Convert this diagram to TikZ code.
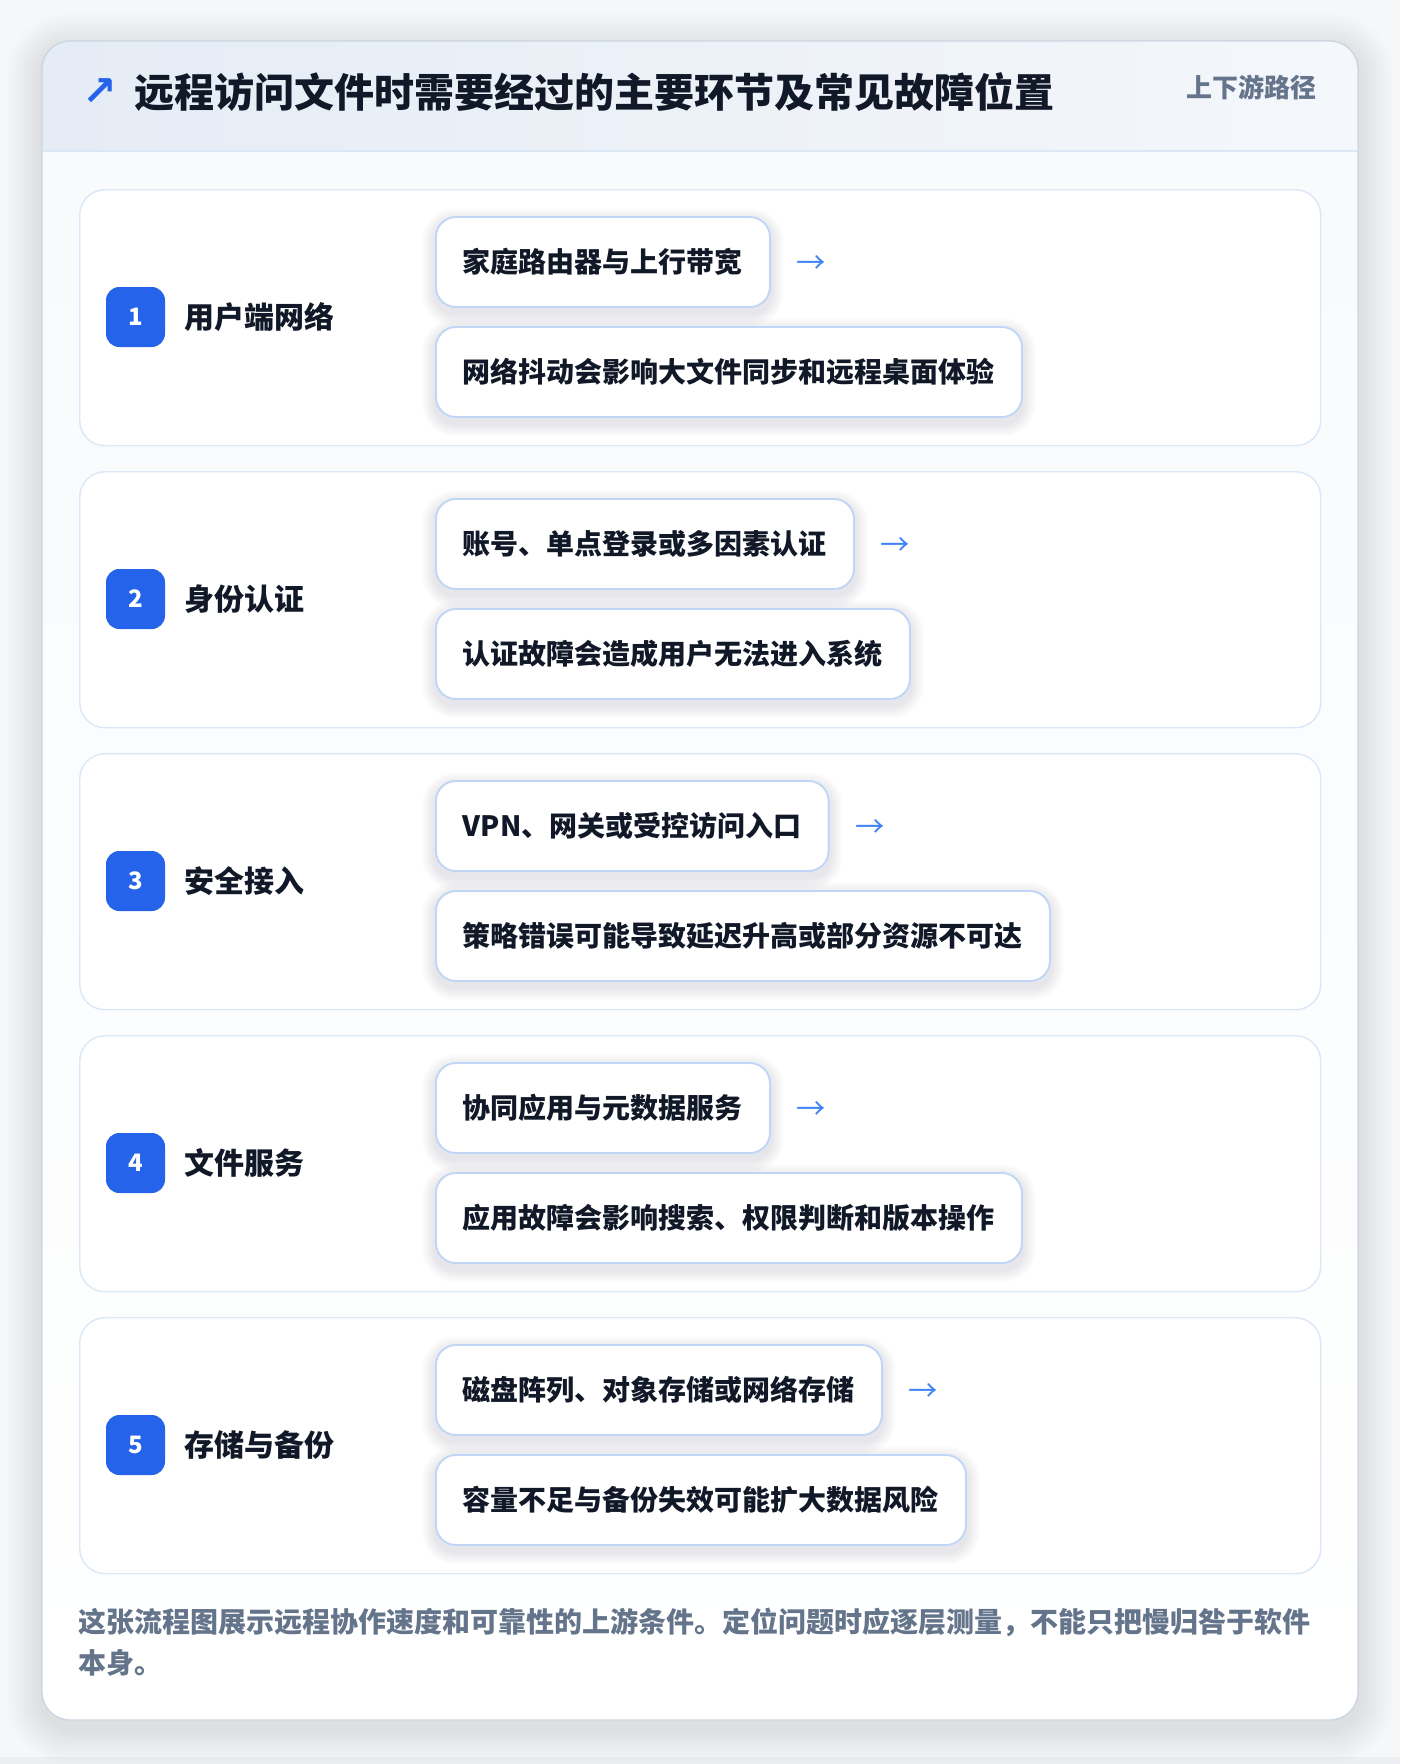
\documentclass[tikz,border=0pt]{standalone}
\usepackage{fontspec}
\setmainfont{Noto Sans CJK SC}
\newfontfamily\symfont{DejaVu Sans}
\usetikzlibrary{positioning,calc}
\definecolor{pagebg}{HTML}{F6F7F9}
\definecolor{cardborder}{HTML}{CBD5E1}
\definecolor{hdrL}{HTML}{E5ECF5}
\definecolor{hdrR}{HTML}{F4F7FB}
\definecolor{hdrline}{HTML}{DCE7F5}
\definecolor{bodytop}{HTML}{F8FAFC}
\definecolor{rowborder}{HTML}{DCE8F8}
\definecolor{pillborder}{HTML}{BFD6F6}
\definecolor{ink}{HTML}{111827}
\definecolor{muted}{HTML}{64748B}
\definecolor{accent}{HTML}{2563EB}
\definecolor{arrowblue}{HTML}{3B82F6}
\definecolor{strip}{HTML}{ECEEF2}
\definecolor{shadowcol}{HTML}{1E293B}
\pgfdeclarelayer{back}
\pgfdeclarelayer{shade}
\pgfsetlayers{back,shade,main}
\newcommand\softshadow[4]{% node, base radius (pt), steps, opacity
  \foreach \k in {1,...,#3}{%
    \pgfmathsetmacro\rr{#2+1.6*\k}%
    \fill[shadowcol, opacity=#4, rounded corners=\rr pt]
      ([xshift=-\k*1.6pt, yshift=-4pt-\k*1.6pt]#1.south west) rectangle
      ([xshift=\k*1.6pt, yshift=-4pt+\k*1.6pt]#1.north east);}}
\begin{document}
\begin{tikzpicture}[x=0.75pt,y=0.75pt,
  rowbox/.style={draw=rowborder, line width=1.1pt, fill=white, rounded corners=19pt, inner sep=0pt, anchor=north west, minimum width=930.75pt, minimum height=192pt},
  pill/.style={draw=pillborder, line width=1.4pt, fill=white, rounded corners=15pt, inner xsep=20.25pt, inner ysep=0pt, minimum height=67.5pt, anchor=west, text=ink, font=\bfseries\fontsize{21}{25}\selectfont},
  badge/.style={fill=accent, rounded corners=10pt, minimum width=44.25pt, minimum height=45pt, inner sep=0pt, text=white, font=\bfseries\fontsize{18}{20}\selectfont},
  steplabel/.style={anchor=west, inner sep=0pt, text=ink, font=\bfseries\fontsize{22.5}{26}\selectfont},
  flowarrow/.style={anchor=west, inner sep=0pt, text=arrowblue, font=\fontsize{22}{24}\selectfont},
  foottext/.style={anchor=west, inner sep=0pt, text=muted, font=\bfseries\fontsize{21}{25}\selectfont},
  cardshape/.style={rounded corners=21pt},
]
\useasboundingbox (0,0) rectangle (1400,-1764);
\begin{pgfonlayer}{back}
\fill[pagebg] (0,0) rectangle (1400,-1764);
\fill[strip] (0,-1757) rectangle (1400,-1764);
% card shadow
\coordinate (cardNW) at (42,-41);
\coordinate (cardSE) at (1358,-1720);
\foreach \k in {1,...,12}{%
  \pgfmathsetmacro\rr{21+2.2*\k}%
  \fill[shadowcol, opacity=0.008, rounded corners=\rr pt]
    ([xshift=-\k*2.2pt, yshift=-6pt+\k*2.2pt]cardNW) rectangle ([xshift=\k*2.2pt, yshift=-6pt-\k*2.2pt]cardSE);}
\fill[white, cardshape] (cardNW) rectangle (cardSE);
\begin{scope}
  \clip[cardshape] (cardNW) rectangle (cardSE);
  \shade[top color=bodytop, bottom color=white] (42,-151) rectangle (1358,-1720);
  \shade[left color=hdrL, right color=hdrR] (42,-41) rectangle (1358,-151);
  \draw[hdrline, line width=1.5pt] (42,-151) -- (1358,-151);
\end{scope}
\draw[cardborder, line width=1pt, cardshape] (cardNW) rectangle (cardSE);
\end{pgfonlayer}
% header
\node[anchor=west, inner sep=0pt, text=accent, font=\symfont\bfseries\fontsize{31}{34}\selectfont] (icon) at (82,-92) {↗};
\node[anchor=west, inner sep=0pt, text=ink, font=\bfseries\fontsize{30}{36}\selectfont] (title) at (134,-92) {远程访问文件时需要经过的主要环节及常见故障位置};
\node[anchor=east, inner sep=0pt, text=muted, font=\bfseries\fontsize{19.5}{22}\selectfont] (tag) at (1317,-87) {上下游路径};
% rows
\foreach \i/\n/\lab/\up/\down in {
  0/1/用户端网络/家庭路由器与上行带宽/网络抖动会影响大文件同步和远程桌面体验,
  1/2/身份认证/账号、单点登录或多因素认证/认证故障会造成用户无法进入系统,
  2/3/安全接入/VPN、网关或受控访问入口/策略错误可能导致延迟升高或部分资源不可达,
  3/4/文件服务/协同应用与元数据服务/应用故障会影响搜索、权限判断和版本操作,
  4/5/存储与备份/磁盘阵列、对象存储或网络存储/容量不足与备份失效可能扩大数据风险} {
  \pgfmathsetmacro\t{-189-282*\i}
  \begin{pgfonlayer}{back}
    \node[rowbox] (row\i) at (79,\t) {};
  \end{pgfonlayer}
  \node[badge] (badge\i) at (135.5,\t-128) {\n};
  \node[steplabel] (lab\i) at (184,\t-128) {\lab};
  \node[pill] (up\i) at (435,\t-73) {\up};
  \node[pill] (down\i) at (435,\t-183) {\down};
  \node[flowarrow] (arr\i) at ([xshift=19pt,yshift=-2pt]up\i.east) {→};
  \begin{pgfonlayer}{shade}
    \softshadow{up\i}{15}{6}{0.016}
    \softshadow{down\i}{15}{6}{0.016}
  \end{pgfonlayer}
}
% footer
\node[foottext] (foot1) at (78,-1622) {这张流程图展示远程协作速度和可靠性的上游条件。定位问题时应逐层测量，不能只把慢归咎于软件};
\node[foottext] (foot2) at (78,-1663) {本身。};
\end{tikzpicture}
\end{document}
